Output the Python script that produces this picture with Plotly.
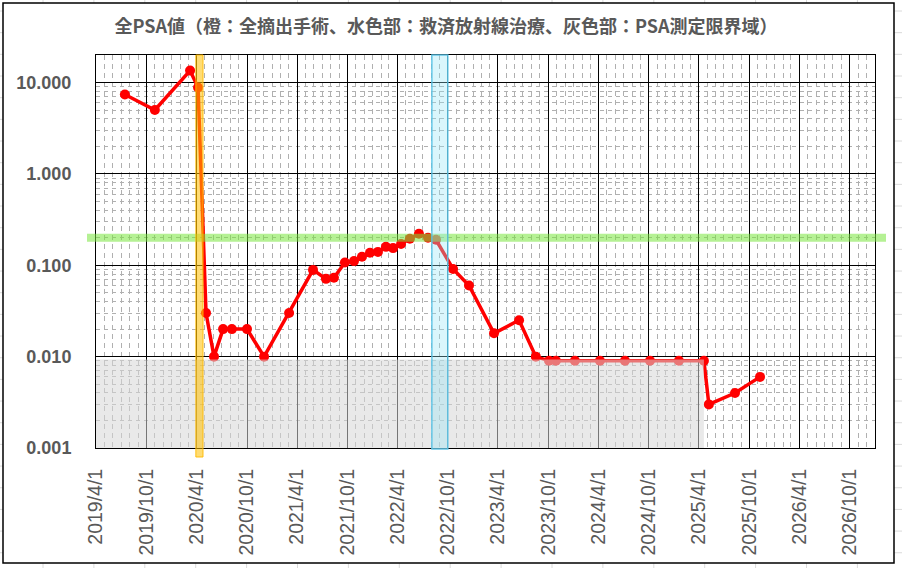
import plotly.graph_objects as go

# ---- data ----
dates = ["2019-07-15", "2019-11-01", "2020-03-08", "2020-04-06", "2020-05-05", "2020-06-03",
         "2020-07-06", "2020-08-07", "2020-10-01", "2020-12-02", "2021-03-03", "2021-05-29",
         "2021-07-15", "2021-08-13", "2021-09-22", "2021-10-25", "2021-11-23", "2021-12-22",
         "2022-01-20", "2022-02-18", "2022-03-16", "2022-04-14", "2022-05-16", "2022-06-18",
         "2022-07-21", "2022-08-19", "2022-10-20", "2022-12-17", "2023-03-18", "2023-06-17",
         "2023-08-17", "2023-10-04", "2023-10-29", "2024-01-06", "2024-04-06", "2024-07-06",
         "2024-10-05", "2025-01-18", "2025-04-19", "2025-05-07", "2025-08-10", "2025-11-09"]
psa = [7.4, 5.0, 13.5, 8.8, 0.030, 0.010,
       0.020, 0.020, 0.020, 0.010, 0.030, 0.089,
       0.071, 0.073, 0.107, 0.111, 0.124, 0.137,
       0.140, 0.159, 0.154, 0.171, 0.195, 0.221,
       0.200, 0.190, 0.091, 0.060, 0.018, 0.025,
       0.010, 0.009, 0.009, 0.009, 0.009, 0.009,
       0.009, 0.009, 0.009, 0.003, 0.004, 0.006]

surgery_period = ["2020-03-29", "2020-04-24"]
radiation_period = ["2022-08-04", "2022-10-01"]
limit_period = ["2019-04-01", "2025-04-19"]
limit_values = [0.001, 0.0093]
threshold = 0.2

y_tickvals = [0.001, 0.01, 0.1, 1, 10]
y_ticktext = ["0.001", "0.010", "0.100", "1.000", "10.000"]
y_minor = [m * 10 ** e for e in range(-3, 1) for m in range(2, 10)]

title = "全PSA値（橙：全摘出手術、水色部：救済放射線治療、灰色部：PSA測定限界域）"

# ---- geometry helpers (pixel -> paper) ----
W, H = 902, 568
PL, PR, PT, PB = 96, 875, 55, 448
def px(x):
    return (x - PL) / (PR - PL)
def py(y):
    return (PB - y) / (PB - PT)

fig = go.Figure()
fig.add_trace(go.Scatter(
    x=dates, y=psa, mode="lines+markers",
    line=dict(color="#FF0000", width=3.5),
    marker=dict(color="#FF0000", size=10),
    showlegend=False, hoverinfo="x+y"))

shapes = []
# spreadsheet cell grid behind the chart
for k in range(19):
    xx = 43 + 50.9 * k
    shapes.append(dict(type="line", xref="paper", yref="paper", layer="below",
                       x0=px(xx), x1=px(xx), y0=py(-5), y1=py(575),
                       line=dict(color="#DADADA", width=1)))
for k in range(27):
    yy = 11 + 21.67 * k
    shapes.append(dict(type="line", xref="paper", yref="paper", layer="below",
                       x0=px(-5), x1=px(910), y0=py(yy), y1=py(yy),
                       line=dict(color="#DADADA", width=1)))
# chart area
shapes.append(dict(type="rect", xref="paper", yref="paper", layer="below",
                   x0=px(3), x1=px(894), y0=py(563), y1=py(3),
                   fillcolor="white", line=dict(color="black", width=1.5)))
# measurement limit area
shapes.append(dict(type="rect", xref="x", yref="y", layer="above",
                   x0=limit_period[0], x1=limit_period[1], y0=limit_values[0], y1=limit_values[1],
                   fillcolor="rgba(215,215,215,0.55)", line=dict(width=0)))
# threshold band
shapes.append(dict(type="line", xref="paper", yref="y", layer="above",
                   x0=px(87), x1=px(886), y0=threshold, y1=threshold,
                   line=dict(color="rgba(120,230,60,0.55)", width=8)))
# radiation band
shapes.append(dict(type="rect", xref="x", yref="paper", layer="above",
                   x0=radiation_period[0], x1=radiation_period[1], y0=py(449), y1=1,
                   fillcolor="rgba(150,230,245,0.35)",
                   line=dict(color="rgba(90,195,230,0.9)", width=1.5)))
# surgery band
shapes.append(dict(type="rect", xref="x", yref="paper", layer="above",
                   x0=surgery_period[0], x1=surgery_period[1], y0=py(457), y1=1,
                   fillcolor="rgba(255,192,0,0.55)",
                   line=dict(color="rgba(255,185,0,0.9)", width=1)))

fig.update_layout(
    width=W, height=H,
    margin=dict(l=PL, r=W - PR, t=PT, b=H - PB, autoexpand=False),
    paper_bgcolor="white", plot_bgcolor="white",
    shapes=shapes,
    title=dict(text=title, x=446 / W, xref="container", xanchor="center",
               y=1 - 27 / H, yref="container", yanchor="middle",
               font=dict(family="Noto Sans CJK JP", size=18, color="#595959", weight="bold")),
    xaxis=dict(type="date", range=["2019-04-01", "2027-01-01"],
               tick0="2019-04-01", dtick="M6", tickformat="%Y/%-m/%-d",
               tickangle=-90, ticks="", ticklabelstandoff=12, automargin=False,
               tickfont=dict(family="Liberation Sans", size=19.5, color="#595959"),
               showgrid=True, gridcolor="black", gridwidth=1,
               minor=dict(dtick="M1", showgrid=True, gridcolor="#B0B0B0",
                          griddash="5px,4px", gridwidth=1),
               showline=True, mirror=True, linecolor="black", linewidth=1,
               zeroline=False),
    yaxis=dict(type="log", range=[-3, 1.301], automargin=False,
               tickmode="array", tickvals=y_tickvals, ticktext=y_ticktext,
               ticks="", ticklabelstandoff=20,
               tickfont=dict(family="Liberation Sans", size=18, color="#595959", weight="bold"),
               showgrid=True, gridcolor="black", gridwidth=1,
               minor=dict(tickmode="array", tickvals=y_minor, showgrid=True,
                          gridcolor="#B0B0B0", griddash="4px,4px", gridwidth=1),
               showline=True, mirror=True, linecolor="black", linewidth=1,
               zeroline=False),
)

fig.write_html("out.html", config={"displayModeBar": False},
               post_script="document.body.style.margin='0';document.body.style.overflow='hidden';")
